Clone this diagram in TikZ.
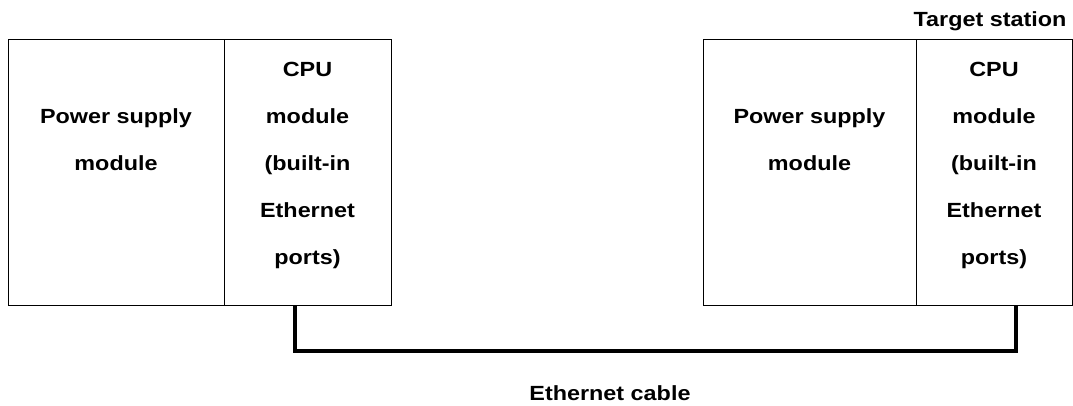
\documentclass[tikz,border=0pt]{standalone}
\usepackage{fontspec}
\setmainfont{Liberation Sans}[FakeStretch=1.14]
\usepackage{tikz}
\usetikzlibrary{positioning}

\tikzset{
  module/.style={draw=black,line width=1pt,minimum height=265pt,inner sep=0pt},
  modtext/.style={font=\fontsize{20.5}{47}\selectfont\bfseries,align=center,anchor=base,inner sep=0pt},
  cable/.style={black,line width=3.5pt}
}

\begin{document}
\begin{tikzpicture}[x=1pt,y=1pt]
\useasboundingbox (0,0) rectangle (1073,405);

% source station
\node[module,minimum width=216pt] (lps) at (116,232.5) {};
\node[module,minimum width=167pt] (lcpu) at (307.5,232.5) {};
% base anchor sits on the last line
\node[modtext] (lpstxt) at (lps |- 0,235) {Power supply\\module};
\node[modtext] (lcputxt) at (lcpu |- 0,141) {CPU\\module\\(built-in\\Ethernet\\ports)};

% target station
\node[module,minimum width=213pt] (rps) at (809.5,232.5) {};
\node[module,minimum width=156pt] (rcpu) at (994,232.5) {};
\node[modtext] (rpstxt) at (rps |- 0,235) {Power supply\\module};
\node[modtext] (rcputxt) at (rcpu |- 0,141) {CPU\\module\\(built-in\\Ethernet\\ports)};
\node[modtext] (target) at (990,378) {Target station};

% cable
\coordinate (lport) at (295,100);
\coordinate (rport) at (1016,100);
\draw[cable] (lport) -- ++(0,-46) -| (rport);
\node[modtext] (cablelbl) at (610,5) {Ethernet cable};
\end{tikzpicture}
\end{document}
